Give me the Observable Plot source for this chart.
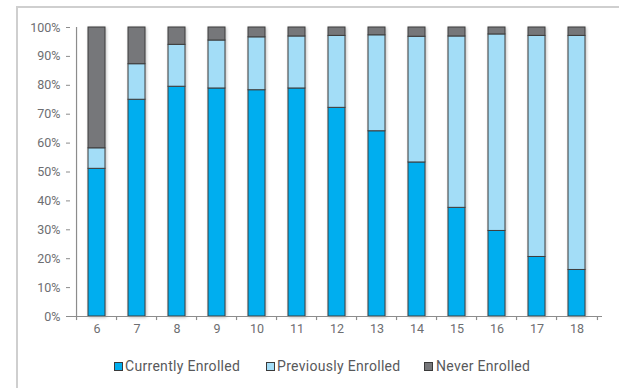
<!DOCTYPE html>
<html>
<head>
<meta charset="utf-8">
<script src="https://cdn.jsdelivr.net/npm/d3@7"></script>
<script src="https://cdn.jsdelivr.net/npm/@observablehq/plot@0.6"></script>
<style>
  html, body { margin: 0; padding: 0; background: #fff; }
  #wrap { position: relative; width: 619px; height: 388px; overflow: hidden; font-family: Roboto, "Liberation Sans", sans-serif; }
  #frame { position: absolute; left: 16px; top: 6px; width: 610px; height: 390px; border-top: 2px solid #cfcfcf; border-left: 2px solid #cfcfcf; box-sizing: border-box; }
  #chart { position: absolute; left: 0; top: 0; }
  .leg { position: absolute; top: 358px; font-size: 14px; letter-spacing: 0.3px; color: #58595b; white-space: nowrap; line-height: 16px; }
  .sw { position: absolute; top: 4px; width: 7px; height: 7px; border: 1px solid #3a3a3a; }
</style>
</head>
<body>
<div id="wrap">
  <div id="frame"></div>
  <div id="chart"></div>
  <div id="legend"></div>
</div>
<script>
const categories = ["6","7","8","9","10","11","12","13","14","15","16","17","18"];
const currentlyEnrolled  = [51.1, 75.0, 79.5, 78.9, 78.3, 78.9, 72.2, 64.1, 53.3, 37.6, 29.6, 20.6, 16.1];
const previouslyEnrolled = [ 7.1, 12.3, 14.5, 16.6, 18.3, 18.0, 24.9, 33.2, 43.5, 59.3, 68.0, 76.5, 81.0];
const neverEnrolled      = [41.8, 12.7,  6.0,  4.5,  3.4,  3.1,  2.9,  2.7,  3.2,  3.1,  2.4,  2.9,  2.9];
const seriesNames = ["Currently Enrolled", "Previously Enrolled", "Never Enrolled"];
const seriesColors = ["#00aeef", "#a3ddf7", "#76777a"];
const yTicks = [0,10,20,30,40,50,60,70,80,90,100];

const seriesValues = [currentlyEnrolled, previouslyEnrolled, neverEnrolled];
const rows = [];
categories.forEach((c, i) => {
  seriesNames.forEach((s, j) => rows.push({age: c, series: s, value: seriesValues[j][i]}));
});

const W = 619, mL = 70, mR = 17;
const step = (W - mL - mR) / categories.length;
const axisColor = "#8c8c8c";

const chart = Plot.plot({
  width: W,
  height: 345,
  marginLeft: mL,
  marginRight: mR,
  marginTop: 27,
  marginBottom: 29,
  style: {fontFamily: "Roboto, 'Liberation Sans', sans-serif", fontSize: "12.5px", color: "#6d6e71", background: "transparent", overflow: "visible"},
  x: {domain: categories, paddingInner: 0.58, paddingOuter: 0.29, label: null, tickSize: 0, tickPadding: 8},
  y: {domain: [0, 100], ticks: yTicks, tickFormat: d => d + "%", tickSize: 4, tickPadding: 6, label: null},
  color: {domain: seriesNames, range: seriesColors},
  marks: [
    Plot.barY(rows, {x: "age", y: "value", fill: "series", stroke: "#3d3d3d", strokeWidth: 1, order: seriesNames}),
    Plot.ruleY([0], {stroke: axisColor, strokeWidth: 1.2}),
    Plot.ruleX(categories, {x: d => d, dx: -step / 2, y1: 0, y2: -1.4, stroke: axisColor, strokeWidth: 1.2}),
    Plot.ruleX([categories[categories.length - 1]], {x: d => d, dx: step / 2, y1: 0, y2: -1.4, stroke: axisColor, strokeWidth: 1.2}),
    Plot.ruleX([categories[0]], {x: d => d, dx: -step / 2, y1: 0, y2: 100, stroke: axisColor, strokeWidth: 1.2})
  ]
});
chart.querySelectorAll('g[aria-label="bar"]').forEach(g => g.style.filter = "drop-shadow(1.5px 1.5px 1.5px rgba(0,0,0,0.25))");
chart.querySelectorAll('g[aria-label="y-axis tick"], g[aria-label="y-axis"]').forEach(g => { if (!g.querySelector("text")) g.setAttribute("stroke", axisColor); });
document.getElementById("chart").appendChild(chart);

const legendPos = [{sw: 114, tx: 125}, {sw: 266, tx: 277}, {sw: 424, tx: 436}];
const legend = document.getElementById("legend");
seriesNames.forEach((s, i) => {
  const sw = document.createElement("div");
  sw.className = "leg";
  sw.style.left = legendPos[i].sw + "px";
  sw.innerHTML = `<span class="sw" style="background:${seriesColors[i]};left:0"></span>`;
  legend.appendChild(sw);
  const t = document.createElement("div");
  t.className = "leg";
  t.style.left = legendPos[i].tx + "px";
  t.textContent = s;
  legend.appendChild(t);
});
</script>
</body>
</html>
